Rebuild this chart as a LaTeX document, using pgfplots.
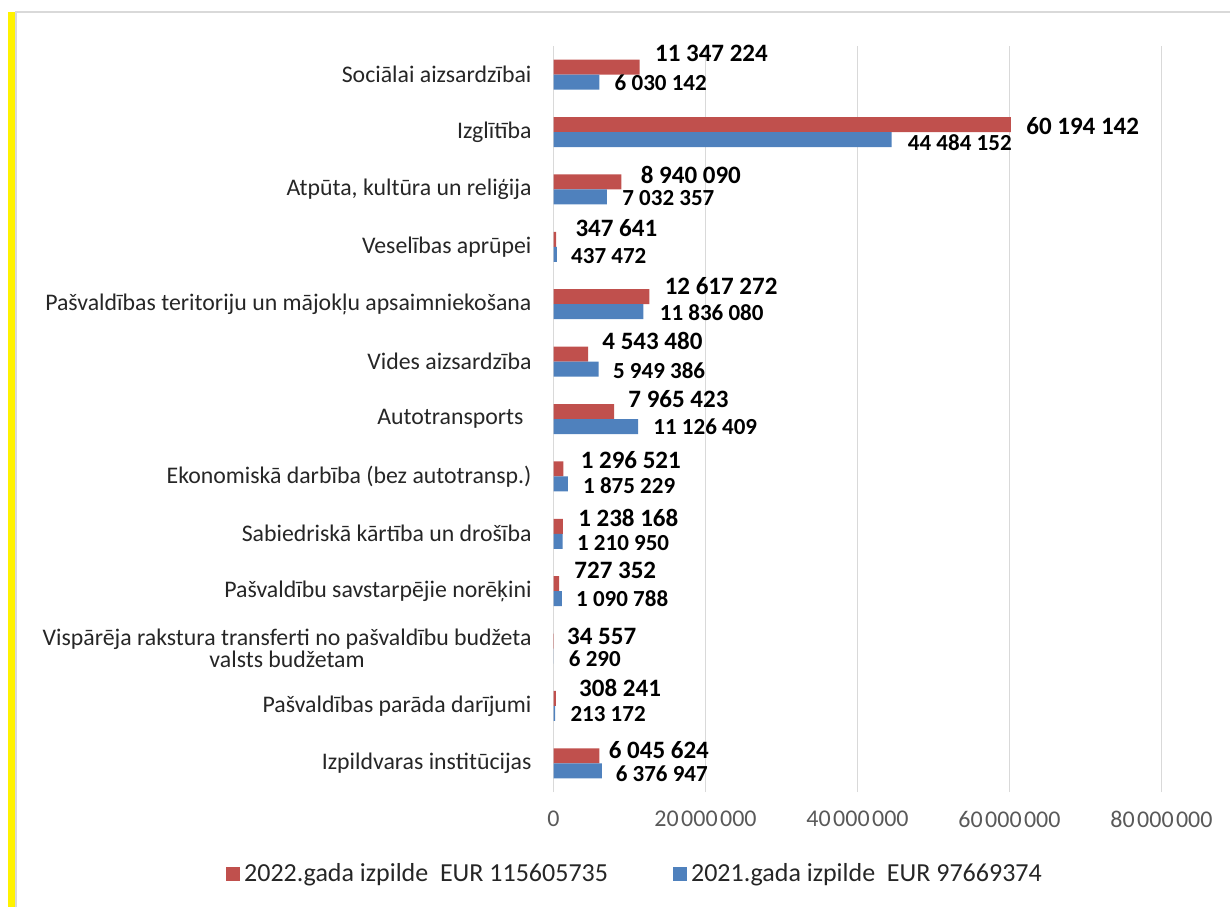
\documentclass[border=0pt]{standalone}
\usepackage{fontspec}
\setmainfont{Carlito}
\usepackage{pgfplots}
\pgfplotsset{compat=1.18}
\usepackage{pgfplotstable}
\definecolor{r22}{HTML}{C0504D}
\definecolor{b21}{HTML}{4F81BD}
\definecolor{gridc}{HTML}{D9D9D9}
\definecolor{tickc}{HTML}{595959}
\definecolor{framec}{HTML}{D9D9D9}
\newcommand\ts{\hspace{1.2pt}}

\pgfplotstableread[col sep=comma]{
idx,v22,l22,dx22,dy22,v21,l21,dx21,dy21
0,6045624,6 045 624,4.5,2.7,6376947,6 376 947,6.7,-1.5
1,308241,308 241,11.5,5.3,213172,213 172,7.5,-0.25
2,34557,34 557,6.5,2.2,6290,6 290,7.5,-1.5
3,727352,727 352,7.5,6.7,1090788,1 090 788,7,0
4,1238168,1 238 168,7.5,4.4,1210950,1 210 950,7,-0.7
5,1296521,1 296 521,8.5,4.4,1875229,1 875 229,7.5,-1
6,7965423,7 965 423,7,6.2,11126409,11 126 409,7.5,0
7,4543480,4 543 480,7,6.7,5949386,5 949 386,7,-0.7
8,12617272,12 617 272,7.5,5.5,11836080,11 836 080,8,-0.5
9,347641,347 641,9.5,5.8,437472,437 472,7,-1
10,8940090,8 940 090,9.5,3.3,7032357,7 032 357,7.5,-0.5
11,60194142,60 194 142,7.5,-0.75,44484152,44 484 152,8,-1.3
12,11347224,11 347 224,7.5,7,6030142,6 030 142,7.5,-0.5
}\datatable

\begin{document}
\begin{tikzpicture}
\path[use as bounding box] (0pt,0pt) rectangle (615pt,-453.5pt);
\fill[yellow] (4pt,-6pt) rectangle (7.5pt,-453.5pt);
\draw[framec, line width=0.75pt] (8pt,-453.5pt) -- (8pt,-6pt) -- (615pt,-6pt);
\begin{axis}[
  at={(276.75pt,-396pt)}, anchor=south west,
  scale only axis, width=304pt, height=373pt,
  xmin=0, xmax=80000000, ymin=-0.5, ymax=12.5,
  enlargelimits=false, clip=false,
  axis line style={draw=none},
  major tick length=0pt,
  xmajorgrids, grid style={draw=gridc, line width=0.75pt},
  scaled x ticks=false,
  xtick={0,20000000,40000000,60000000,80000000},
  xticklabels={0,20\ts000\ts000,40\ts000\ts000,60\ts000\ts000,80\ts000\ts000},
  xticklabel style={font=\fontsize{12}{12}\selectfont, text=tickc, inner sep=0pt, yshift=-9.5pt},
  ytick={0,1,2,3,4,5,6,7,8,9,10,11,12},
  yticklabels={
    Izpildvaras institūcijas,
    Pašvaldības parāda darījumi,
    {Vispārēja rakstura transferti no pašvaldību budžeta\\valsts budžetam},
    Pašvaldību savstarpējie norēķini,
    Sabiedriskā kārtība un drošība,
    Ekonomiskā darbība (bez autotransp.),
    Autotransports\hspace*{4pt},
    Vides aizsardzība,
    Pašvaldības teritoriju un mājokļu apsaimniekošana,
    Veselības aprūpei,
    {Atpūta, kultūra un reliģija},
    Izglītība,
    Sociālai aizsardzībai},
  yticklabel style={font=\fontsize{11.9}{11}\selectfont, text=black!85, align=center, inner sep=0pt, xshift=-10.8pt},
  legend style={at={(0.1357,-0.110)}, anchor=center, draw=none, fill=none,
    font=\fontsize{13}{13}\selectfont, text=black!85,
    /tikz/every even column/.append style={column sep=30.5pt}},
  legend columns=2,
]
\addplot[xbar, fill=r22, draw=none, bar width=7.5pt, bar shift=3.75pt,
  point meta=explicit symbolic,
  nodes near coords={\pgfplotspointmeta},
  visualization depends on={\thisrow{dx22} \as \dxx},
  visualization depends on={\thisrow{dy22} \as \dyy},
  every node near coord/.append style={anchor=west, inner sep=0pt, xshift=\dxx pt, yshift={\dyy pt+3.75pt}, font=\fontsize{12.5}{12.5}\selectfont\bfseries, text=black},
  legend image code/.code={\fill[r22] (0pt,-3.4pt) rectangle (7pt,3.4pt);}
] table[x=v22, y=idx, meta=l22]{\datatable};
\addlegendentry{2022.gada izpilde \ EUR 115605735}
\addplot[xbar, fill=b21, draw=none, bar width=7.5pt, bar shift=-3.75pt,
  point meta=explicit symbolic,
  nodes near coords={\pgfplotspointmeta},
  visualization depends on={\thisrow{dx21} \as \dxx},
  visualization depends on={\thisrow{dy21} \as \dyy},
  every node near coord/.append style={anchor=west, inner sep=0pt, xshift=\dxx pt, yshift={\dyy pt-3.75pt}, font=\fontsize{11.5}{11.5}\selectfont\bfseries, text=black},
  legend image code/.code={\fill[b21] (0pt,-3.4pt) rectangle (7pt,3.4pt);}
] table[x=v21, y=idx, meta=l21]{\datatable};
\addlegendentry{2021.gada izpilde \ EUR 97669374}
\end{axis}
\end{tikzpicture}
\end{document}
